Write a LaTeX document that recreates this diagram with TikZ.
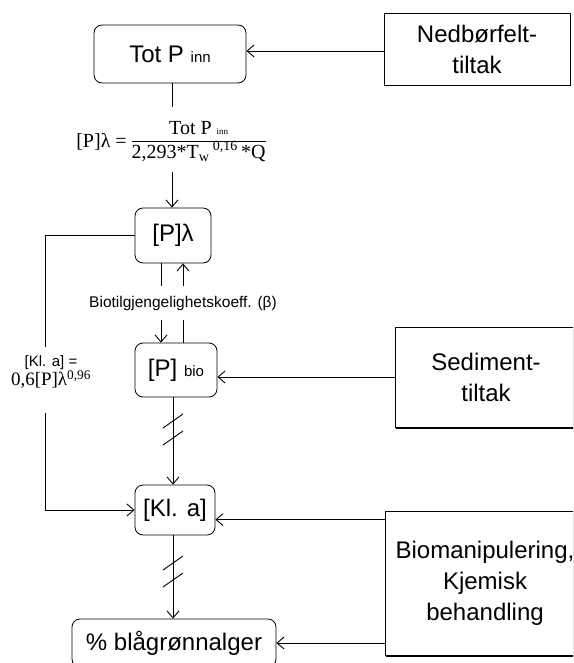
\documentclass[tikz,border=0pt]{standalone}
\usepackage{fontspec}
\setmainfont{Liberation Sans}
\newfontfamily\timesfont{Liberation Serif}
\usetikzlibrary{arrows.meta,shadows,calc}

\tikzset{
  rbox/.style={draw, rounded corners=8pt, line width=0.8pt, inner sep=0pt,
    align=center, font=\fontsize{24}{30}\selectfont},
  tbox/.style={draw, fill=white, line width=0.8pt, inner sep=0pt, align=center,
    font=\fontsize{24}{31}\selectfont,
    drop shadow={shadow xshift=1.2pt, shadow yshift=-1.5pt, fill=black, opacity=1}},
  >={Straight Barb[length=7pt,width=12pt]}
}
\newcommand\lowtxt[1]{{\fontsize{15}{15}\selectfont #1}}

\begin{document}
\begin{tikzpicture}[x=1pt,y=-1pt,line width=0.9pt]
  \clip (0,0) rectangle (573,663);

  % midtre kolonne
  \node[rbox, minimum width=152pt, minimum height=58pt] (totp) at (170,54) {Tot P \lowtxt{inn}};
  \node[rbox, minimum width=76pt, minimum height=55pt] (plam) at (173,235.5) {[P]λ};
  \node[rbox, minimum width=82pt, minimum height=54pt] (pbio) at (176,370) {[P] \lowtxt{bio}};
  \node[rbox, minimum width=80pt, minimum height=50pt] (klA) at (175,510) {[Kl. a]};
  \node[rbox, minimum width=204pt, minimum height=48pt] (pct) at (174,643) {\% blågrønnalger};

  % tiltak
  \node[tbox, minimum width=186pt, minimum height=72pt] (ned) at (477,49) {Nedbørfelt-\\tiltak};
  \node[tbox, minimum width=182pt, minimum height=100pt] (sed) at (486,377) {Sediment-\\tiltak};
  \node[tbox, minimum width=200pt, minimum height=144pt] (biom) at (485,583) {Biomanipulering,\\Kjemisk\\behandling};

  % formler
  \node[font=\timesfont\fontsize{20}{22}\selectfont, inner sep=0pt] (flam) at (171,142)
    {[P]λ = \begin{tabular}{@{}c@{}}Tot P {\fontsize{9}{9}\selectfont inn}\\\hline
     2,293*T\textsubscript{w}\,\textsuperscript{0,16}\,*Q\end{tabular}};
  \node[inner sep=0pt, align=center] (klaeq) at (51,372)
    {{\fontsize{15}{18}\selectfont [Kl. a] =}\\{\timesfont\fontsize{19}{22}\selectfont 0,6[P]λ\textsuperscript{0,96}}};
  \node[font=\fontsize{15.5}{18}\selectfont, inner xsep=0pt, inner ysep=9pt] (beta) at (183,303)
    {Biotilgjengelighetskoeff. (β)};

  \coordinate (fin) at (172,107);
  \coordinate (fout) at (172,172);
  \coordinate (l1) at (45,347);
  \coordinate (l2) at (45,413);
  \path (plam.south) ++(-12,0) coordinate (b1);
  \path (plam.south) ++(10,0) coordinate (b2);

  % piler
  \draw (totp.south -| fin) -- (fin);
  \draw[->] (fout) -- (fout |- plam.north);
  \draw (b1) -- (b1 |- beta.north);
  \draw[->] (b1 |- beta.south) -- (b1 |- pbio.north);
  \draw[->] (b2 |- beta.north) -- (b2);
  \draw (b2 |- pbio.north) -- (b2 |- beta.south);
  \draw[->] (pbio.south -| plam) -- (klA.north -| plam);
  \draw[->] (klA.south -| plam) -- (pct.north -| plam);
  \draw (plam.west) -| (l1);
  \draw[->] (l2) |- (klA.west);

  \draw[->] (ned.west) ++(0,2) coordinate (nt) -- (nt -| totp.east);
  \draw[->] (sed.west) -- (sed.west -| pbio.east);
  \draw[->] (biom.north west) ++(0,9) coordinate (bk) -- (bk -| klA.east);
  \draw[->] (pct.east -| biom.west) -- (pct.east);

  % brudd
  \foreach \y in {421,438,563,580}
    \draw (163,\y+7) -- (183,\y-7);
\end{tikzpicture}
\end{document}
